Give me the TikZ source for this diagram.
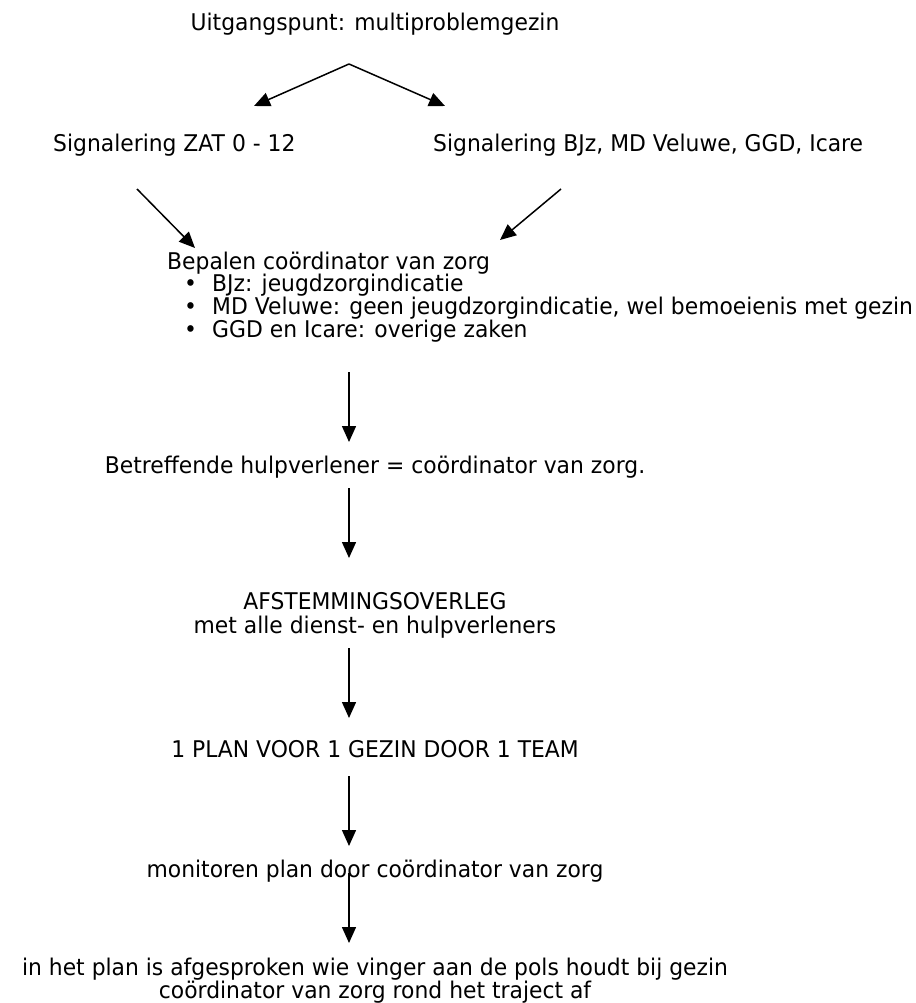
\documentclass[tikz,border=0pt]{standalone}
\usepackage{fontspec}
\setmainfont{DejaVu Sans}[FakeStretch=0.95]
\usetikzlibrary{arrows.meta}
\begin{document}
\begin{tikzpicture}[x=1pt,y=-1pt,
  txt/.style={inner sep=0pt, anchor=base, font=\fontsize{23}{25}\selectfont},
  ltxt/.style={txt, anchor=base west},
  arr/.style={-{Triangle[length=16pt,width=14pt]}, line width=1.5pt}]
\useasboundingbox (0,0) rectangle (915,1003);
\node[txt] (start) at (375,31) {Uitgangspunt: multiproblemgezin};
\coordinate (apex) at (349,64);
\coordinate (lt) at (254,106);
\coordinate (rt) at (445,106);
\draw[arr] (apex) -- (lt);
\draw[arr] (apex) -- (rt);
\node[ltxt] (zat) at (53,152) {Signalering ZAT 0 - 12};
\node[ltxt] (bjz) at (433,152) {Signalering BJz, MD Veluwe, GGD, Icare};
\coordinate (zs) at (137,189);
\coordinate (ze) at (195,248);
\coordinate (bs) at (561,189);
\coordinate (be) at (500,240);
\draw[arr] (zs) -- (ze);
\draw[arr] (bs) -- (be);
\node[ltxt] (bep) at (167,269) {Bepalen coördinator van zorg};
\node[ltxt] (b1) at (184,291) {•};
\node[ltxt] (t1) at (212,291) {BJz: jeugdzorgindicatie};
\node[ltxt] (b2) at (184,314) {•};
\node[ltxt] (t2) at (212,314) {MD Veluwe: geen jeugdzorgindicatie, wel bemoeienis met gezin};
\node[ltxt] (b3) at (184,337) {•};
\node[ltxt] (t3) at (212,337) {GGD en Icare: overige zaken};
\coordinate (a1s) at (349,372);
\coordinate (a1e) at (349,442);
\draw[arr] (a1s) -- (a1e);
\node[txt] (betr) at (375,473) {Betreffende hulpverlener = coördinator van zorg.};
\coordinate (a2s) at (349,488);
\coordinate (a2e) at (349,558);
\draw[arr] (a2s) -- (a2e);
\node[txt] (afst) at (375,609) {AFSTEMMINGSOVERLEG};
\node[txt] (met) at (375,633) {met alle dienst- en hulpverleners};
\coordinate (a3s) at (349,648);
\coordinate (a3e) at (349,718);
\draw[arr] (a3s) -- (a3e);
\node[txt] (plan) at (375,757) {1 PLAN VOOR 1 GEZIN DOOR 1 TEAM};
\coordinate (a4s) at (349,776);
\coordinate (a4e) at (349,846);
\draw[arr] (a4s) -- (a4e);
\node[txt] (mon) at (375,877) {monitoren plan door coördinator van zorg};
\coordinate (a5s) at (349,873);
\coordinate (a5e) at (349,943);
\draw[arr] (a5s) -- (a5e);
\node[txt] (end1) at (375,975) {in het plan is afgesproken wie vinger aan de pols houdt bij gezin};
\node[txt] (end2) at (375,998) {coördinator van zorg rond het traject af};
\end{tikzpicture}
\end{document}
